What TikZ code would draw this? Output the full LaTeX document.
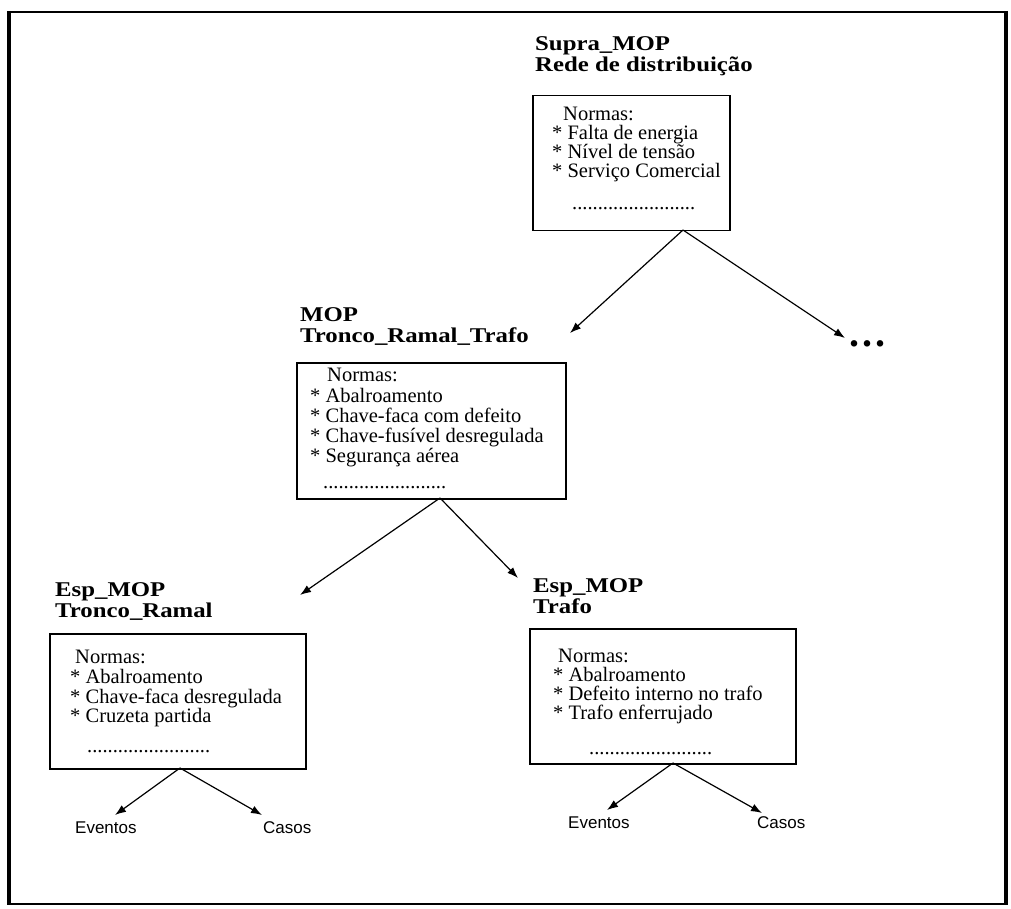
\documentclass[tikz,border=0pt]{standalone}
\usepackage{fontspec}
\setmainfont{Liberation Serif}
\newfontfamily\headfont{Liberation Serif}[FakeStretch=1.18]
\newfontfamily\labelfont{Liberation Sans}
\usetikzlibrary{arrows.meta}

\tikzset{
  head/.style={anchor=base west, inner sep=0pt, font=\headfont\bfseries\fontsize{21}{21}\selectfont},
  body/.style={anchor=base west, inner sep=0pt, font=\fontsize{20.5}{20.5}\selectfont},
  dotrow/.style={anchor=base west, inner sep=0pt, font=\fontsize{20.5}{20.5}\selectfont},
  leaf/.style={anchor=base west, inner sep=0pt, font=\labelfont\fontsize{17}{17}\selectfont},
  normbox/.style={draw, line width=1.5pt, anchor=north west, inner sep=0pt},
  conn/.style={line width=1.2pt, -{Latex[length=11pt,width=8pt]}},
  sideline/.style={line width=3.5pt},
  capline/.style={line width=2pt}
}

\begin{document}
\begin{tikzpicture}[x=1pt,y=-1pt]
\useasboundingbox (0,0) rectangle (1011,909);
% page frame: heavier vertical sides
\draw[capline] (9,12) -- (1006,12);
\draw[capline] (9,904) -- (1006,904);
\draw[sideline] (9,11) -- (9,905);
\draw[sideline] (1006,11) -- (1006,905);

% ---- Supra_MOP ----
\node[head] (h1a) at (535,51) {Supra\_MOP};
\node[head] (h1b) at (535,72) {Rede de distribuição};
\node[normbox, minimum width=197pt, minimum height=135pt] (b1) at (532,95) {};
\node[body] (n1) at (563,121) {Normas:};
\node[body] (n1a) at (552,140) {* Falta de energia};
\node[body] (n1b) at (552,159) {* Nível de tensão};
\node[body] (n1c) at (552,178) {* Serviço Comercial};
\node[dotrow] (d1) at (572,210) {........................};
\node[anchor=base west, inner sep=0pt, font=\bfseries\fontsize{40}{40}\selectfont] (more) at (849,346) {.\hspace{3pt}.\hspace{3pt}.};

% ---- MOP ----
\node[head] (h2a) at (300,321) {MOP};
\node[head] (h2b) at (300,342) {Tronco\_Ramal\_Trafo};
\node[normbox, minimum width=269pt, minimum height=136pt] (b2) at (296,362) {};
\node[body] (n2) at (327,381) {Normas:};
\node[body] (n2a) at (310,402) {* Abalroamento};
\node[body] (n2b) at (310,422) {* Chave-faca com defeito};
\node[body] (n2c) at (310,442) {* Chave-fusível desregulada};
\node[body] (n2d) at (310,462) {* Segurança aérea};
\node[dotrow] (d2) at (323,488) {........................};

% ---- Esp_MOP Tronco_Ramal ----
\node[head] (h3a) at (55,596) {Esp\_MOP};
\node[head] (h3b) at (55,617) {Tronco\_Ramal};
\node[normbox, minimum width=256pt, minimum height=135pt] (b3) at (49,633) {};
\node[body] (n3) at (75,663) {Normas:};
\node[body] (n3a) at (70,683) {* Abalroamento};
\node[body] (n3b) at (70,703) {* Chave-faca desregulada};
\node[body] (n3c) at (70,722) {* Cruzeta partida};
\node[dotrow] (d3) at (87,752) {........................};
\node[leaf] (e3) at (75,833) {Eventos};
\node[leaf] (c3) at (263,833) {Casos};

% ---- Esp_MOP Trafo ----
\node[head] (h4a) at (533,592) {Esp\_MOP};
\node[head] (h4b) at (533,613) {Trafo};
\node[normbox, minimum width=266pt, minimum height=135pt] (b4) at (529,628) {};
\node[body] (n4) at (558,662) {Normas:};
\node[body] (n4a) at (553,681) {* Abalroamento};
\node[body] (n4b) at (553,700) {* Defeito interno no trafo};
\node[body] (n4c) at (553,719) {* Trafo enferrujado};
\node[dotrow] (d4) at (589,754) {........................};
\node[leaf] (e4) at (568,828) {Eventos};
\node[leaf] (c4) at (757,828) {Casos};

% ---- branch points on the box edges and arrow ends ----
\coordinate (v1) at (683,230);
\coordinate (v2) at (440,498);
\coordinate (v3) at (180,768);
\coordinate (v4) at (673,763);
\coordinate (t1a) at (570,333);
\coordinate (t1b) at (845,338);
\coordinate (t2a) at (300,595);
\coordinate (t2b) at (518,578);
\coordinate (t3a) at (115,815);
\coordinate (t3b) at (262,815);
\coordinate (t4a) at (607,810);
\coordinate (t4b) at (762,813);

\draw[conn] (v1) -- (t1a);
\draw[conn] (v1) -- (t1b);
\draw[conn] (v2) -- (t2a);
\draw[conn] (v2) -- (t2b);
\draw[conn] (v3) -- (t3a);
\draw[conn] (v3) -- (t3b);
\draw[conn] (v4) -- (t4a);
\draw[conn] (v4) -- (t4b);
\end{tikzpicture}
\end{document}
